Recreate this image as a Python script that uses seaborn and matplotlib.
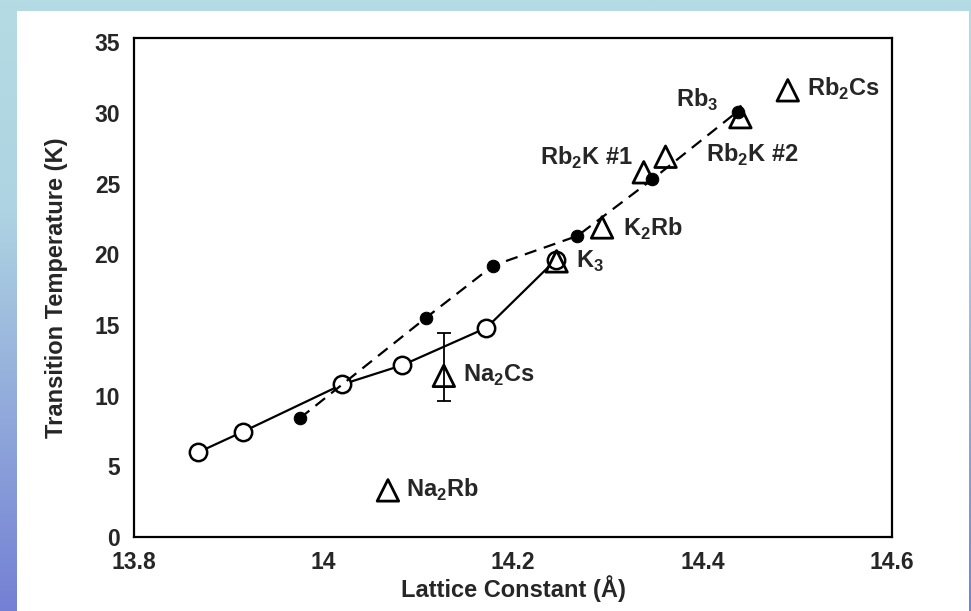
import numpy as np
import seaborn as sns
from matplotlib import pyplot as plt
from matplotlib.patches import Rectangle

# open circles joined by the solid line
open_x = [13.868, 13.915, 14.020, 14.083, 14.172, 14.245]
open_tc = [6.0, 7.45, 10.8, 12.15, 14.8, 19.6]

# filled circles joined by the dashed line
filled_x = [13.975, 14.108, 14.179, 14.268, 14.347, 14.437]
filled_tc = [8.4, 15.5, 19.2, 21.3, 25.3, 30.1]

# open triangles with their compound names
tri_names = [
    r"Na$_\mathbf{2}$Rb",
    r"Na$_\mathbf{2}$Cs",
    r"K$_\mathbf{3}$",
    r"K$_\mathbf{2}$Rb",
    r"Rb$_\mathbf{2}$K #1",
    r"Rb$_\mathbf{2}$K #2",
    r"Rb$_\mathbf{3}$",
    r"Rb$_\mathbf{2}$Cs",
]
tri_x = [14.068, 14.127, 14.246, 14.294, 14.338, 14.361, 14.440, 14.490]
tri_tc = [3.3, 11.4, 19.5, 21.9, 25.8, 26.9, 29.7, 31.6]

# error bar on Na2Cs (down, up)
na2cs_err = [1.8, 3.0]

x_ticks = [13.8, 14, 14.2, 14.4, 14.6]
x_tick_labels = ["13.8", "14", "14.2", "14.4", "14.6"]
y_ticks = [0, 5, 10, 15, 20, 25, 30, 35]

# label placement relative to each triangle, in pixels
label_offsets = [
    (18, 0, "left"),
    (19, 0, "left"),
    (19, 0, "left"),
    (21, -1, "left"),
    (-11, 14, "right"),
    (40, 2, "left"),
    (-22, 17, "right"),
    (19, 1, "left"),
]

sns.set_style("white")
plt.rcParams["font.family"] = ["Liberation Sans", "DejaVu Sans"]
plt.rcParams["font.weight"] = "bold"
plt.rcParams["mathtext.fontset"] = "custom"
plt.rcParams["mathtext.rm"] = "Liberation Sans:bold"
plt.rcParams["mathtext.bf"] = "Liberation Sans:bold"

W, H = 971, 611
fig = plt.figure(figsize=(W / 100, H / 100), dpi=100)

# slide background: vertical cyan -> blue gradient with a white sheet on top
bg = fig.add_axes([0, 0, 1, 1], zorder=-10)
bg.axis("off")
stops = np.array([0.0, 0.35, 1.0])
cols = np.array([[181, 220, 228], [174, 211, 226], [116, 128, 212]]) / 255
t = np.linspace(0, 1, 256)
grad = np.stack([np.interp(t, stops, cols[:, i]) for i in range(3)], axis=1)
bg.imshow(grad[:, None, :], aspect="auto", extent=[0, 1, 0, 1])
bg.add_patch(Rectangle((17 / W, 0), (969 - 17) / W, (H - 11) / H,
                       facecolor="white", edgecolor="none"))
bg.set_xlim(0, 1)
bg.set_ylim(0, 1)

ax = fig.add_axes([134 / W, 1 - 537 / H, (892 - 134) / W, (537 - 38) / H])
ax.set_facecolor("white")

lw = 1.6
sns.lineplot(x=open_x, y=open_tc, ax=ax, sort=False, color="black", lw=lw,
             marker="o", markersize=12.5, markerfacecolor="white",
             markeredgecolor="black", markeredgewidth=1.8, zorder=3)
sns.lineplot(x=filled_x, y=filled_tc, ax=ax, sort=False, color="black", lw=lw,
             linestyle=(0, (5.5, 3.5)), marker="o", markersize=9,
             markerfacecolor="black", markeredgecolor="black", zorder=3)
sns.scatterplot(x=tri_x, y=tri_tc, ax=ax, marker="^", s=240,
                facecolor="none", edgecolor="black", linewidth=2.0, zorder=4)
ax.errorbar(tri_x[1], tri_tc[1], yerr=[[na2cs_err[0]], [na2cs_err[1]]],
            fmt="none", ecolor="black", elinewidth=1.3, capsize=5,
            capthick=1.3, zorder=4)

for name, x, y, (dx, dy, ha) in zip(tri_names, tri_x, tri_tc, label_offsets):
    ax.annotate(name, (x, y), xytext=(dx, dy), textcoords="offset pixels",
                ha=ha, va="center", fontsize=17, fontweight="bold")

ax.set_xlim(13.8, 14.6)
ax.set_ylim(0, 35.3)
ax.set_xticks(x_ticks)
ax.set_xticklabels(x_tick_labels)
ax.set_yticks(y_ticks)
ax.tick_params(direction="in", length=5, width=1.3, labelsize=16.5, pad=10)
for s in ax.spines.values():
    s.set_linewidth(1.6)
    s.set_color("black")

ax.set_xlabel("Lattice Constant (Å)", fontsize=17, fontweight="bold", labelpad=1)
ax.set_ylabel("Transition Temperature (K)", fontsize=17, fontweight="bold",
              labelpad=19)

fig.savefig("out.png", dpi=100)
